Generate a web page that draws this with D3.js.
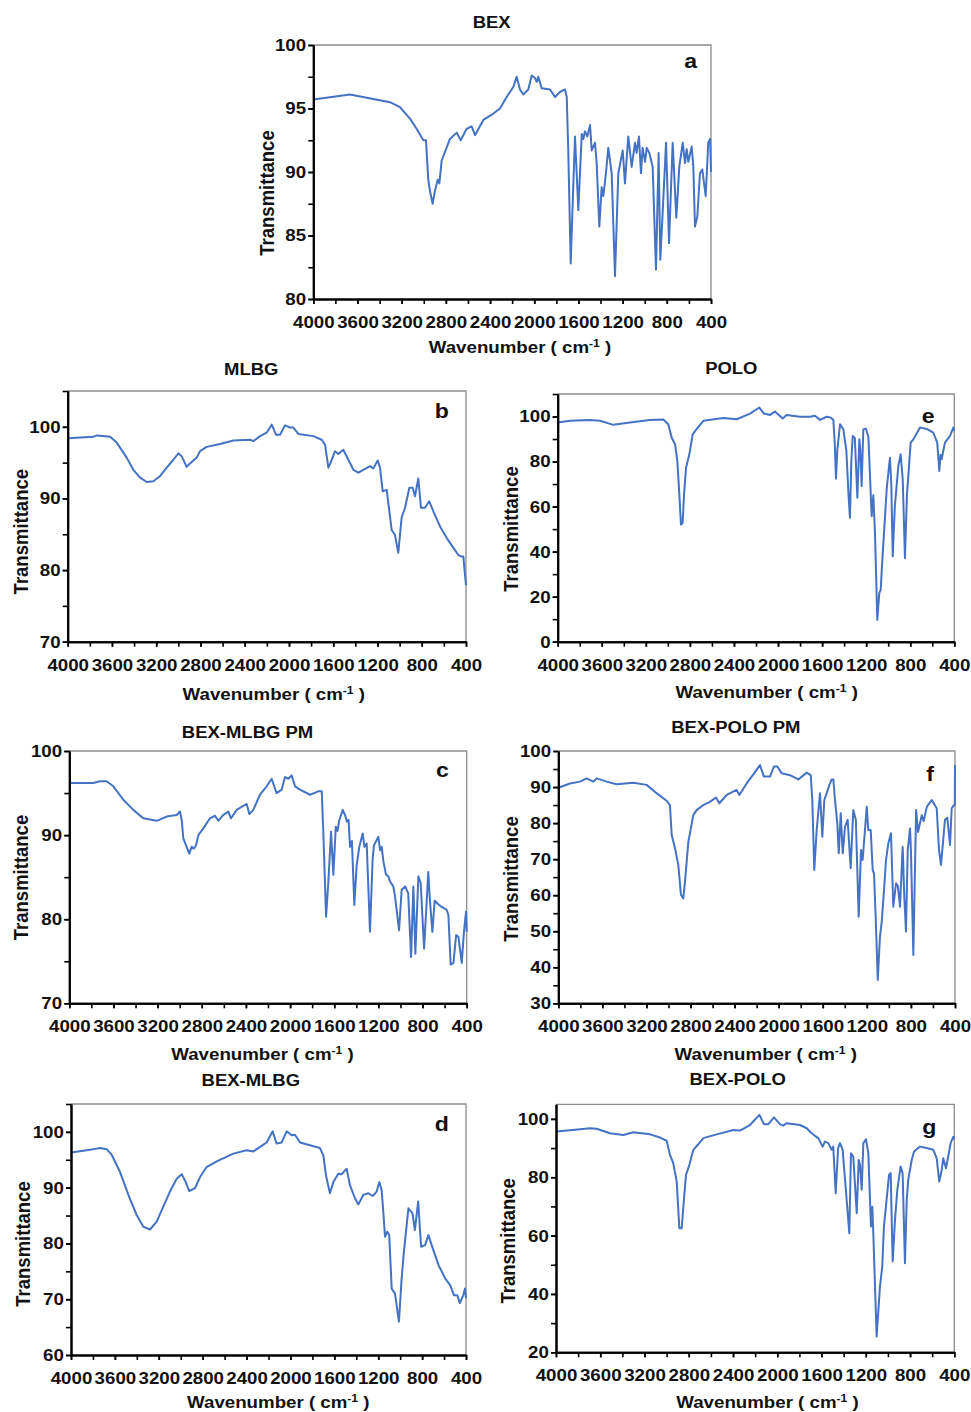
<!DOCTYPE html>
<html>
<head>
<meta charset="utf-8">
<script src="https://cdn.jsdelivr.net/npm/d3@7"></script>
<style>
  body { margin: 0; background: #fff; }
  svg { display: block; }
  text { font-family: "Liberation Sans", Arial, sans-serif; font-weight: bold; fill: #111; }
</style>
</head>
<body>
<svg id="fig" width="971" height="1412"></svg>
<script>
// ---- FTIR spectra: [wavenumber (cm-1), transmittance] ----
const spectrumBEX = [
  [4000,95.7],[3668,96.1],[3306,95.5],[3215,95.1],[3125,94.2],[3065,93.4],[3004,92.5],[2980,92.5],
  [2959,89.4],[2944,88.5],[2920,87.5],[2899,88.5],[2874,89.4],[2859,89.1],[2838,90.9],[2763,92.6],
  [2702,93.1],[2666,92.5],[2612,93.4],[2567,93.6],[2536,92.9],[2461,94.1],[2370,94.6],[2310,95.0],
  [2250,95.9],[2189,96.7],[2159,97.5],[2129,96.5],[2099,96.1],[2054,96.5],[2023,97.6],[1993,97.4],
  [1978,97.1],[1963,97.5],[1933,96.6],[1857,96.5],[1812,95.9],[1767,96.3],[1722,96.5],[1706,95.9],
  [1692,91.7],[1670,82.8],[1646,89.1],[1631,92.8],[1601,87.0],[1570,93.0],[1556,92.6],[1541,93.2],
  [1520,92.8],[1495,93.7],[1480,91.7],[1450,92.3],[1435,90.7],[1411,85.7],[1390,88.8],[1375,88.1],
  [1351,89.9],[1330,91.9],[1314,90.9],[1299,89.9],[1269,81.8],[1239,89.9],[1199,91.7],[1179,89.1],
  [1149,92.8],[1118,90.4],[1088,92.3],[1073,91.5],[1052,92.8],[1034,89.9],[1019,91.9],[997,90.8],
  [982,91.9],[958,91.5],[928,90.4],[898,82.3],[874,91.5],[859,83.1],[837,86.9],[807,92.3],
  [780,84.4],[747,92.3],[714,86.4],[687,90.4],[656,92.3],[635,90.7],[620,91.8],[605,90.8],
  [575,92.0],[560,90.4],[545,85.7],[524,86.5],[500,89.9],[479,90.2],[448,88.1],[425,92.3],
  [408,92.6],[400,90.0]
];

const spectrumMLBG = [
  [4000,98.4],[3768,98.6],[3738,98.8],[3617,98.6],[3557,97.8],[3467,95.7],[3407,94.0],[3346,92.9],
  [3286,92.3],[3226,92.4],[3166,93.1],[3105,94.3],[3045,95.4],[3000,96.3],[2970,95.9],[2925,94.4],
  [2900,94.8],[2864,95.3],[2834,95.7],[2804,96.6],[2744,97.2],[2623,97.6],[2503,98.1],[2352,98.2],
  [2322,98.0],[2262,98.7],[2201,99.2],[2156,100.3],[2117,98.9],[2081,98.9],[2036,100.2],[1991,99.9],
  [1961,99.9],[1915,99.0],[1780,98.7],[1704,98.2],[1674,97.5],[1644,94.3],[1623,95.0],[1584,96.6],
  [1554,96.2],[1509,96.8],[1463,95.4],[1418,94.0],[1373,93.6],[1328,94.0],[1268,94.5],[1237,94.2],
  [1198,95.3],[1177,94.3],[1153,91.0],[1117,91.2],[1072,85.6],[1042,84.9],[1012,82.4],[982,87.3],
  [951,88.7],[912,91.5],[882,91.5],[861,90.3],[831,92.8],[807,88.7],[771,88.7],[732,89.6],
  [695,88.2],[635,86.1],[575,84.5],[514,83.1],[469,82.1],[445,81.9],[424,81.9],[409,79.3],[400,77.9]
];

const spectrumPOLO = [
  [4000,97.3],[3888,98.1],[3707,98.5],[3616,98.1],[3495,96.3],[3344,97.3],[3162,98.5],[3041,98.7],
  [2996,96.6],[2965,90.6],[2935,87.7],[2914,80.2],[2896,65.4],[2881,52.0],[2866,52.7],[2853,65.4],
  [2835,77.3],[2805,83.2],[2775,92.1],[2739,94.4],[2678,98.1],[2496,99.3],[2375,98.8],[2254,101.3],
  [2170,104.0],[2127,101.3],[2073,100.7],[2028,102.2],[1958,99.1],[1922,100.7],[1801,99.9],[1710,99.9],
  [1665,100.3],[1619,98.5],[1559,99.9],[1520,99.5],[1498,98.5],[1485,88.0],[1474,72.4],[1462,85.0],
  [1437,96.6],[1407,94.3],[1380,85.0],[1360,65.0],[1347,55.0],[1335,80.0],[1322,91.4],[1303,90.5],
  [1280,63.9],[1262,89.9],[1253,85.0],[1241,69.0],[1226,94.3],[1202,94.6],[1180,91.0],[1159,66.1],
  [1150,55.7],[1135,65.0],[1120,48.3],[1099,9.7],[1081,21.6],[1068,23.0],[1055,35.0],[1038,48.3],
  [1014,67.6],[984,81.7],[972,70.0],[959,37.9],[940,60.0],[908,78.0],[887,83.2],[868,72.0],
  [848,37.1],[830,65.0],[796,88.4],[770,90.0],[711,95.1],[650,94.5],[591,92.9],[555,88.4],
  [536,75.8],[525,83.0],[515,81.0],[485,88.4],[439,91.4],[409,95.1],[400,93.6]
];

const spectrumBEXMLBGPM = [
  [4000,96.2],[3783,96.2],[3722,96.4],[3662,96.4],[3601,95.8],[3511,94.2],[3420,93.0],[3330,92.0],
  [3209,91.7],[3118,92.2],[3028,92.4],[2997,92.8],[2982,91.8],[2967,89.6],[2937,88.6],[2913,87.8],
  [2892,88.6],[2870,88.4],[2852,88.8],[2831,90.0],[2786,90.8],[2726,92.0],[2680,92.3],[2650,91.7],
  [2605,92.4],[2559,92.8],[2535,92.0],[2484,93.0],[2393,93.7],[2369,92.5],[2333,93.0],[2273,94.8],
  [2212,95.8],[2167,96.7],[2122,95.0],[2076,95.4],[2046,96.9],[2016,96.7],[1986,97.1],[1955,95.8],
  [1910,95.4],[1819,94.8],[1744,95.2],[1713,95.2],[1699,90.4],[1674,80.3],[1653,84.5],[1629,90.4],
  [1608,85.3],[1586,91.0],[1570,90.5],[1554,91.8],[1523,93.0],[1500,92.3],[1485,91.6],[1470,91.8],
  [1457,88.6],[1440,89.3],[1418,81.7],[1397,86.4],[1373,88.6],[1342,90.2],[1327,88.6],[1306,89.0],
  [1276,78.5],[1252,87.2],[1240,88.8],[1200,89.8],[1185,88.2],[1170,88.6],[1155,86.9],[1131,85.3],
  [1110,85.1],[1095,84.5],[1065,83.9],[1050,82.8],[1013,78.7],[989,83.5],[958,83.9],[930,83.1],
  [904,75.5],[883,83.9],[865,75.9],[838,85.1],[817,84.3],[786,76.5],[748,85.6],[733,82.2],
  [711,78.5],[690,82.2],[660,81.8],[630,81.5],[581,81.1],[566,80.5],[545,74.6],[520,74.8],
  [496,78.1],[475,77.9],[445,74.8],[425,78.5],[406,80.9],[400,78.5]
];

const spectrumBEXPOLOPM = [
  [4000,89.8],[3894,91.0],[3803,91.5],[3743,92.4],[3682,91.5],[3652,92.4],[3561,91.5],[3471,90.8],
  [3319,91.2],[3198,90.6],[3108,88.3],[3017,86.2],[2987,85.0],[2971,76.7],[2941,73.0],[2911,68.4],
  [2887,60.1],[2866,59.1],[2850,63.8],[2820,74.8],[2775,82.2],[2745,83.6],[2684,85.0],[2624,85.9],
  [2569,87.1],[2539,85.5],[2472,87.8],[2382,89.2],[2357,87.8],[2291,91.0],[2230,93.5],[2170,96.1],
  [2134,92.9],[2079,92.9],[2043,95.7],[2012,95.7],[1973,93.8],[1897,93.3],[1822,92.1],[1746,94.0],
  [1709,93.3],[1695,86.4],[1677,67.0],[1655,78.1],[1625,88.3],[1604,76.2],[1586,86.4],[1564,88.3],
  [1540,90.6],[1519,92.1],[1504,92.1],[1489,86.4],[1468,79.9],[1455,71.6],[1437,82.7],[1419,71.6],
  [1398,79.0],[1374,80.9],[1347,67.5],[1323,83.6],[1300,80.9],[1274,54.0],[1253,72.5],[1238,69.8],
  [1201,84.5],[1187,78.1],[1165,78.1],[1147,67.0],[1135,66.0],[1120,54.0],[1101,36.5],[1081,48.5],
  [1065,52.6],[1044,61.4],[1026,69.8],[1005,74.4],[981,77.2],[960,56.8],[935,63.3],[918,62.5],
  [899,56.8],[875,73.4],[860,59.6],[845,49.9],[829,72.5],[808,78.5],[800,72.5],[778,43.4],
  [753,83.6],[735,77.5],[702,82.2],[685,80.5],[656,84.5],[611,86.4],[566,84.1],[545,72.5],
  [527,68.4],[491,80.9],[470,81.5],[445,73.9],[430,84.1],[410,85.0],[402,85.0],[400,96.1]
];

const spectrumBEXMLBG = [
  [4000,96.3],[3857,96.7],[3766,97.0],[3736,97.1],[3675,96.9],[3629,95.9],[3553,92.8],[3477,88.7],
  [3402,85.1],[3341,83.0],[3280,82.5],[3219,83.9],[3159,86.6],[3098,89.3],[3037,91.6],[2991,92.4],
  [2961,91.3],[2922,89.4],[2870,89.9],[2824,91.9],[2764,93.7],[2672,94.7],[2520,96.1],[2399,96.7],
  [2338,96.5],[2277,97.3],[2217,98.1],[2162,100.1],[2126,97.9],[2080,98.1],[2034,100.1],[1989,99.4],
  [1959,99.5],[1913,98.1],[1822,97.6],[1731,97.1],[1700,95.8],[1676,92.2],[1640,89.0],[1609,91.0],
  [1564,92.5],[1534,92.4],[1488,93.4],[1457,90.4],[1412,88.1],[1381,87.0],[1336,88.7],[1290,89.0],
  [1251,88.5],[1214,89.3],[1190,91.0],[1169,89.6],[1154,85.7],[1138,81.2],[1118,82.1],[1100,81.5],
  [1077,71.9],[1047,71.0],[1011,66.0],[987,73.6],[966,78.5],[925,86.3],[888,85.4],[866,82.4],
  [836,87.5],[809,79.4],[773,79.7],[743,81.5],[713,79.7],[650,76.1],[589,73.7],[543,72.5],
  [509,70.7],[479,70.7],[456,69.3],[425,70.7],[409,71.9],[400,70.2]
];

const spectrumBEXPOLO = [
  [4000,95.7],[3849,96.2],[3693,96.8],[3633,96.6],[3512,95.1],[3391,94.5],[3301,95.4],[3150,94.7],
  [3060,93.6],[3000,92.5],[2970,87.7],[2940,84.8],[2909,78.5],[2885,62.5],[2864,62.5],[2843,72.8],
  [2825,80.8],[2795,84.2],[2759,89.4],[2714,91.3],[2668,93.4],[2548,94.7],[2397,96.2],[2337,96.0],
  [2247,97.9],[2162,101.4],[2120,98.2],[2081,98.2],[2030,100.5],[1976,98.2],[1946,97.7],[1916,98.5],
  [1795,97.9],[1734,96.8],[1689,95.1],[1659,94.2],[1629,93.4],[1590,90.5],[1569,92.2],[1539,91.7],
  [1508,89.4],[1494,90.5],[1472,74.5],[1450,90.0],[1433,91.7],[1409,89.4],[1379,75.1],[1349,60.8],
  [1334,88.2],[1313,87.1],[1282,67.7],[1264,85.9],[1252,84.2],[1237,75.7],[1222,91.7],[1198,93.0],
  [1177,88.2],[1162,72.2],[1153,63.1],[1141,69.9],[1132,60.8],[1102,25.4],[1072,42.5],[1051,49.4],
  [1036,63.1],[1018,69.9],[990,80.8],[975,81.4],[957,51.1],[936,65.4],[915,75.7],[885,83.7],
  [867,81.4],[846,50.5],[830,72.2],[816,79.1],[785,85.9],[764,88.8],[740,89.6],[710,90.5],
  [650,90.0],[590,89.4],[559,86.5],[536,78.5],[514,82.5],[500,86.5],[475,83.1],[455,87.1],
  [433,91.7],[409,93.9],[400,93.0]
];

// ---- tick labels ----
const wavenumberTicks = [4000, 3600, 3200, 2800, 2400, 2000, 1600, 1200, 800, 400];
const wavenumberMinorTicks = [4000, 3800, 3600, 3400, 3200, 3000, 2800, 2600, 2400, 2200, 2000,
                              1800, 1600, 1400, 1200, 1000, 800, 600, 400];
const ticksBEX = [80, 85, 90, 95, 100];
const ticksMLBG = [70, 80, 90, 100];
const ticksPOLO = [0, 20, 40, 60, 80, 100];
const ticksBEXMLBGPM = [70, 80, 90, 100];
const ticksBEXPOLOPM = [30, 40, 50, 60, 70, 80, 90, 100];
const ticksBEXMLBG = [60, 70, 80, 90, 100];
const ticksBEXPOLO = [20, 40, 60, 80, 100];

// ---- panel layout ----
const panels = [
  { title: "BEX", letter: "a", data: spectrumBEX, yTicks: ticksBEX, yMax: 100, yMinorStep: 2.5,
    box: { l: 313.3, r: 711, t: 45, b: 299 },
    titleAt: [491.7, 28.3], letterAt: [690.8, 68.3], xTitleAt: [520, 352.7], yTitleAt: [273.5, 193] },
  { title: "MLBG", letter: "b", data: spectrumMLBG, yTicks: ticksMLBG, yMax: 105, yMinorStep: 5,
    box: { l: 67.7, r: 466, t: 391, b: 641.7 },
    titleAt: [251.2, 375], letterAt: [441.7, 418.3], xTitleAt: [273.8, 700], yTitleAt: [28.3, 531.7] },
  { title: "POLO", letter: "e", data: spectrumPOLO, yTicks: ticksPOLO, yMax: 110, yMinorStep: 10,
    box: { l: 557.7, r: 954.3, t: 394, b: 641.7 },
    titleAt: [731.3, 374.3], letterAt: [928.3, 423.3], xTitleAt: [766.7, 698.3], yTitleAt: [518.3, 529] },
  { title: "BEX-MLBG PM", letter: "c", data: spectrumBEXMLBGPM, yTicks: ticksBEXMLBGPM, yMax: 100, yMinorStep: 5,
    box: { l: 69.3, r: 466.7, t: 751, b: 1003.3 },
    titleAt: [247.5, 737.7], letterAt: [442.5, 776.7], xTitleAt: [262.5, 1060], yTitleAt: [28.3, 877.5] },
  { title: "BEX-POLO PM", letter: "f", data: spectrumBEXPOLOPM, yTicks: ticksBEXPOLOPM, yMax: 100, yMinorStep: 5,
    box: { l: 558.3, r: 955, t: 751, b: 1003.3 },
    titleAt: [735.8, 733.3], letterAt: [930, 781], xTitleAt: [765.8, 1060], yTitleAt: [518.3, 879] },
  { title: "BEX-MLBG", letter: "d", data: spectrumBEXMLBG, yTicks: ticksBEXMLBG, yMax: 105, yMinorStep: 5,
    box: { l: 71, r: 466, t: 1104, b: 1355 },
    titleAt: [250.8, 1085.7], letterAt: [441.7, 1131], xTitleAt: [278.3, 1408.3], yTitleAt: [30, 1244] },
  { title: "BEX-POLO", letter: "g", data: spectrumBEXPOLO, yTicks: ticksBEXPOLO, yMax: 105, yMinorStep: 10,
    box: { l: 556, r: 954.3, t: 1104.3, b: 1352.3 },
    titleAt: [737.7, 1085], letterAt: [929.3, 1134], xTitleAt: [767.5, 1408.3], yTitleAt: [515, 1240.8] }
];

const LINE_COLOR = "#4472C4";
const STRETCH = 1.1;           // text in the figure is set slightly wide
const svg = d3.select("#fig");

function styleAxis(sel) {
  sel.select(".domain").attr("stroke", "#000").attr("stroke-width", 2);
  sel.selectAll(".tick line").attr("stroke", "#000").attr("stroke-width", 1.6);
  sel.selectAll(".tick text")
    .attr("transform", `scale(${STRETCH},1)`)
    .style("font-size", "17px")
    .style("font-family", "'Liberation Sans', Arial, sans-serif")
    .style("font-weight", "bold")
    .attr("fill", "#111");
}

panels.forEach(p => {
  const { l, r, t, b } = p.box;
  const yMin = p.yTicks[0];
  const x = d3.scaleLinear().domain([4000, 400]).range([l, r]);
  const y = d3.scaleLinear().domain([yMin, p.yMax]).range([b, t]);
  const g = svg.append("g");

  // light frame on top and right
  g.append("path")
    .attr("d", `M${l},${t}H${r}V${b}`)
    .attr("fill", "none")
    .attr("stroke", "#8c8c8c")
    .attr("stroke-width", 1.3);

  // spectrum
  g.append("path")
    .datum(p.data)
    .attr("fill", "none")
    .attr("stroke", LINE_COLOR)
    .attr("stroke-width", 2)
    .attr("stroke-linejoin", "round")
    .attr("d", d3.line().x(d => x(d[0])).y(d => y(d[1])));

  // x axis: minor ticks every 200, labels every 400
  g.append("g").attr("transform", `translate(0,${b})`)
    .call(d3.axisBottom(x).tickValues(wavenumberMinorTicks).tickSize(5).tickSizeOuter(0).tickFormat(""))
    .call(styleAxis);
  g.append("g").attr("transform", `translate(0,${b})`)
    .call(d3.axisBottom(x).tickValues(wavenumberTicks).tickSize(5).tickPadding(12).tickSizeOuter(0).tickFormat(d3.format("d")))
    .call(styleAxis);

  // y axis
  const yMinor = d3.range(yMin, p.yMax + 0.001, p.yMinorStep);
  g.append("g").attr("transform", `translate(${l},0)`)
    .call(d3.axisLeft(y).tickValues(yMinor).tickSize(5).tickSizeOuter(0).tickFormat(""))
    .call(styleAxis);
  g.append("g").attr("transform", `translate(${l},0)`)
    .call(d3.axisLeft(y).tickValues(p.yTicks).tickSize(5).tickPadding(1.5).tickSizeOuter(0).tickFormat(d3.format("d")))
    .call(styleAxis);

  // panel title
  g.append("text")
    .attr("transform", `translate(${p.titleAt[0]},${p.titleAt[1]}) scale(${STRETCH},1)`)
    .attr("text-anchor", "middle")
    .style("font-size", "16.8px")
    .text(p.title);

  // panel letter
  g.append("text")
    .attr("transform", `translate(${p.letterAt[0]},${p.letterAt[1]}) scale(${STRETCH},1)`)
    .attr("text-anchor", "middle")
    .style("font-size", "21px")
    .text(p.letter);

  // x axis title with superscript
  const xt = g.append("text")
    .attr("transform", `translate(${p.xTitleAt[0]},${p.xTitleAt[1]}) scale(${STRETCH},1)`)
    .attr("text-anchor", "middle")
    .style("font-size", "17px");
  xt.append("tspan").text("Wavenumber ( cm");
  xt.append("tspan").attr("dy", -6).style("font-size", "11px").text("-1");
  xt.append("tspan").attr("dy", 6).text(" )");

  // y axis title
  g.append("text")
    .attr("transform", `translate(${p.yTitleAt[0]},${p.yTitleAt[1]}) scale(${STRETCH},1) rotate(-90)`)
    .attr("text-anchor", "middle")
    .style("font-size", "18.5px")
    .text("Transmittance");
});
</script>
</body>
</html>
